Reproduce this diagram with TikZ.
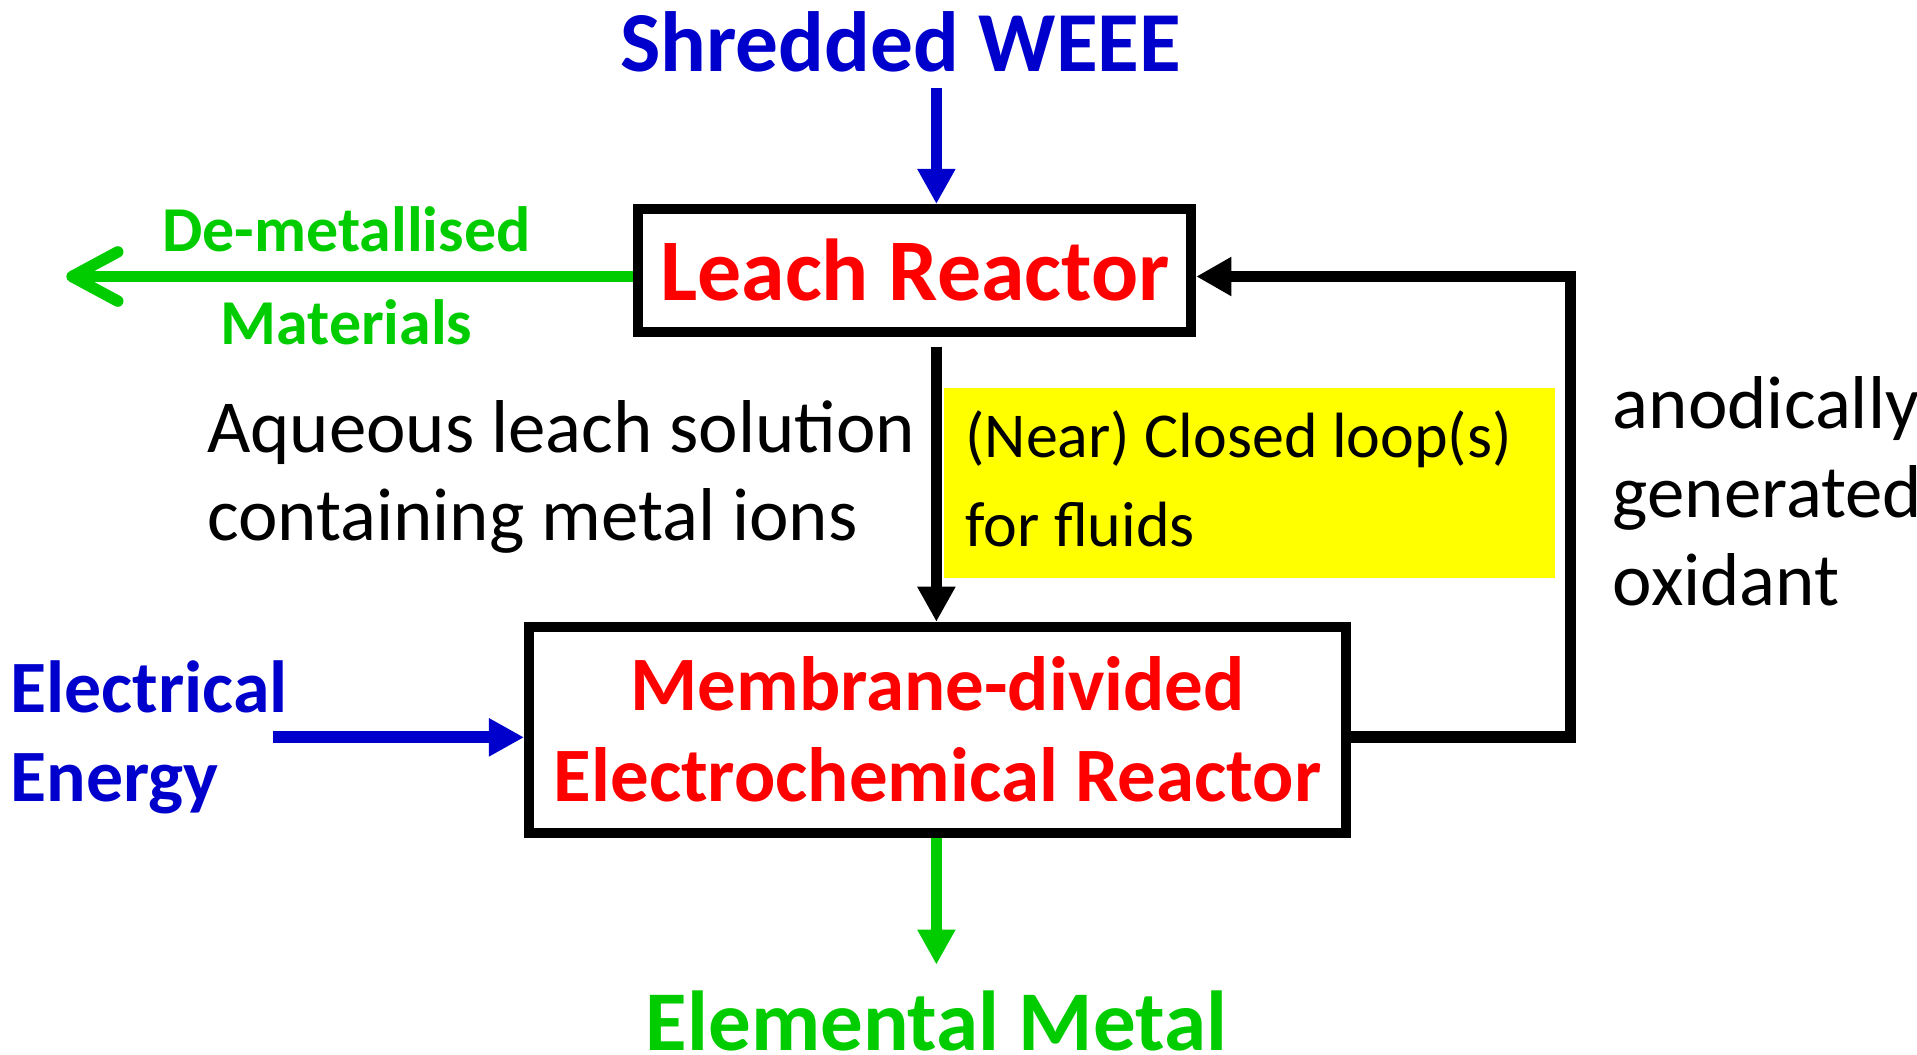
\documentclass[tikz,border=0pt]{standalone}
\usepackage{fontspec}
\setmainfont{Carlito}
\usetikzlibrary{arrows.meta}
\newcommand\myu{0.3496pt}
\definecolor{cblue}{RGB}{0,0,204}
\definecolor{cgreen}{RGB}{0,204,0}
\definecolor{cred}{RGB}{255,0,0}
\definecolor{cyell}{RGB}{255,255,0}
\tikzset{
  box/.style={draw=black, line width=8*\myu, fill=white, inner sep=0pt},
  boldtxt/.style={inner sep=0pt},
  normtxt/.style={font=\fontsize{21.3}{25.2}\selectfont, inner sep=0pt, align=left},
  flow/.style={line width=9.5*\myu, -{Triangle[length=10pt,width=10.2pt]}},
}
\begin{document}
\begin{tikzpicture}[x=\myu, y=-\myu]
\useasboundingbox (0,0) rectangle (1560,858.5);
% boxes
\node[box, minimum width=450*\myu, minimum height=100*\myu, text=cred,
      font=\bfseries\fontsize{25}{28}\selectfont] (leach) at (744.5,220) {Leach Reactor};
\node[box, minimum width=665*\myu, minimum height=168*\myu] (mem) at (763,594) {};
\node[boldtxt, text=cred, align=center, font=\bfseries\fontsize{21.9}{25.9}\selectfont, anchor=base] (memt) at (763,652) {Membrane-divided\\Electrochemical Reactor};
\node[fill=cyell, minimum width=497*\myu, minimum height=154*\myu, inner sep=0pt] (yel) at (1016.5,393) {};
% texts
\node[boldtxt, text=cblue, font=\bfseries\fontsize{24.3}{28}\selectfont, anchor=base] (weee) at (733,58) {Shredded WEEE};
\node[boldtxt, text=cgreen, font=\bfseries\fontsize{18.2}{22}\selectfont, anchor=base] (demet) at (282,205) {De-metallised};
\node[boldtxt, text=cgreen, font=\bfseries\fontsize{18.2}{22}\selectfont, anchor=base] (mat) at (282,280) {Materials};
\node[normtxt, anchor=base west] (aq) at (168,440) {Aqueous leach solution\\containing metal ions};
\node[normtxt, font=\fontsize{18.2}{25.5}\selectfont, anchor=base west] (loop) at (785,445) {(Near) Closed loop(s)\\for fluids};
\node[normtxt, anchor=base west] (anod) at (1312,493) {anodically\\generated\\oxidant};
\node[boldtxt, text=cblue, align=left, font=\bfseries\fontsize{21}{25.2}\selectfont, anchor=base west] (elec) at (8,652) {Electrical\\Energy};
\node[boldtxt, text=cgreen, font=\bfseries\fontsize{24.2}{26}\selectfont, anchor=base] (elem) at (762,855) {Elemental Metal};
% connectors
\coordinate (a1) at (762,72);
\draw[flow, cblue] (a1) -- (a1 |- leach.north);
\coordinate (a2) at (762,282);
\draw[flow, black] (a2) -- (a2 |- mem.north);
\coordinate (g1) at (54,225);
\draw[cgreen, line width=9.3*\myu, -{Straight Barb[length=13pt,width=14pt,round]}] (leach.west |- g1) -- (g1);
\coordinate (l1) at (1278,600);
\coordinate (l2) at (1278,225);
\draw[black, line width=9.5*\myu, -{Triangle[length=10pt,width=10.5pt]}] (mem.east |- l1) -- (l1) -- (l2) -- (leach.east |- l2);
\coordinate (e1) at (222,600);
\draw[flow, cblue] (e1) -- (mem.west |- e1);
\coordinate (m1) at (762,785);
\draw[flow, cgreen] (mem.south -| m1) -- (m1);
\end{tikzpicture}
\end{document}
